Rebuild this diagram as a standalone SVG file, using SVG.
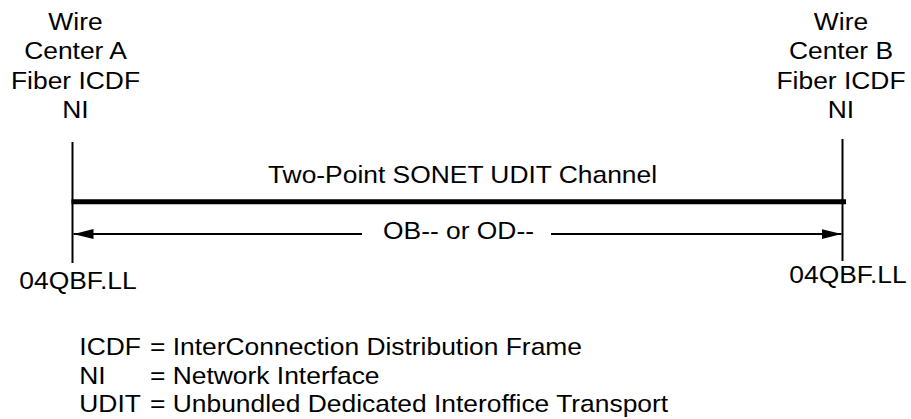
<svg xmlns="http://www.w3.org/2000/svg" width="911" height="419" viewBox="0 0 911 419">
<style>
text{font-family:"Liberation Sans",Arial,sans-serif;font-size:24px;fill:#000}
.c{text-anchor:middle}
.thin{stroke:#000;stroke-width:2;fill:none}
.thick{stroke:#000;stroke-width:5;fill:none}
</style>
<defs>
<marker id="ah" viewBox="0 0 20 10" refX="20" refY="5" markerWidth="20" markerHeight="10" markerUnits="userSpaceOnUse" orient="auto">
<path d="M0,0 L20,5 L0,10 Z" fill="#000"/>
</marker>
</defs>
<rect width="911" height="419" fill="#fff"/>
<g id="nodeA">
<text class="c" transform="translate(75.5,29.5) scale(1.1,1)">Wire</text>
<text class="c" transform="translate(75.5,59) scale(1.1,1)">Center A</text>
<text class="c" transform="translate(75.5,88.5) scale(1.1,1)">Fiber ICDF</text>
<text class="c" transform="translate(75.5,118) scale(1.1,1)">NI</text>
<line class="thin" x1="72.5" y1="142" x2="72.5" y2="263"/>
<text class="c" transform="translate(78,289) scale(1.1,1)">04QBF.LL</text>
</g>
<g id="nodeB">
<text class="c" transform="translate(841,29.5) scale(1.1,1)">Wire</text>
<text class="c" transform="translate(841,59) scale(1.1,1)">Center B</text>
<text class="c" transform="translate(841,88.5) scale(1.1,1)">Fiber ICDF</text>
<text class="c" transform="translate(841,118) scale(1.1,1)">NI</text>
<line class="thin" x1="842.5" y1="139" x2="842.5" y2="261"/>
<text class="c" transform="translate(848,283.3) scale(1.1,1)">04QBF.LL</text>
</g>
<g id="connectors">
<line class="thick" x1="71.5" y1="201.8" x2="846" y2="201.8"/>
<text class="c" transform="translate(462.5,183.3) scale(1.1,1)">Two-Point SONET UDIT Channel</text>
<line class="thin" x1="362" y1="234" x2="73.5" y2="234" marker-end="url(#ah)"/>
<line class="thin" x1="551" y1="234" x2="841.5" y2="234" marker-end="url(#ah)"/>
<text class="c" transform="translate(458.5,238.5) scale(1.1,1)">OB-- or OD--</text>
</g>
<g id="legend">
<text transform="translate(79.3,355) scale(1.1,1)">ICDF</text>
<text transform="translate(150,355) scale(1.1,1)">= InterConnection Distribution Frame</text>
<text transform="translate(79.3,383.7) scale(1.1,1)">NI</text>
<text transform="translate(150,383.7) scale(1.1,1)">= Network Interface</text>
<text transform="translate(79.3,412.4) scale(1.1,1)">UDIT</text>
<text transform="translate(150,412.4) scale(1.1,1)">= Unbundled Dedicated Interoffice Transport</text>
</g>
</svg>
